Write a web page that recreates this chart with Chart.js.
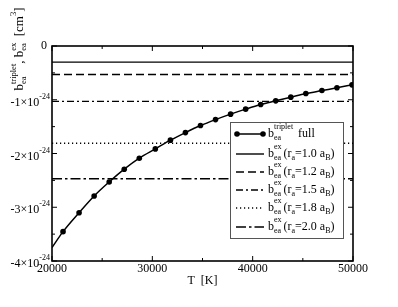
<!DOCTYPE html>
<html><head><meta charset="utf-8">
<script src="https://cdn.jsdelivr.net/npm/chart.js@4/dist/chart.umd.min.js"></script>
<style>html,body{margin:0;padding:0;background:#fff}#wrap{width:398px;height:307px}</style>
</head><body><div id="wrap"><canvas id="c" width="398" height="307"></canvas></div>
<script>
// values in units of 1e-24 cm^3
const T_full = [20000,21100,22700,24200,25700,27200,28700,30300,31800,33300,34800,36300,37800,39300,40800,42300,43800,45300,46900,48400,49900];
const b_full = [-3.75,-3.454,-3.101,-2.790,-2.529,-2.292,-2.087,-1.914,-1.752,-1.611,-1.480,-1.369,-1.268,-1.175,-1.089,-1.020,-0.952,-0.885,-0.829,-0.778,-0.723];
const radii = ["1.0","1.2","1.5","1.8","2.0"];
const b_ex = [-0.30,-0.53,-1.03,-1.81,-2.47];
const T_range = [20000,50000];
const xTicks = [20000,30000,40000,50000];
const xMinor = [25000,35000,45000];
const yTicks = [0,-1,-2,-3,-4];
const yTickLabels = ["0","-1\u00d710","-2\u00d710","-3\u00d710","-4\u00d710"];
const yMinor = [-0.5,-1.5,-2.5,-3.5];
const dashes = [[],[8,4],[7,3,2,3],[1.2,2.8],[10,3,2.5,3]];

const datasets = [{
  label:'full', data:T_full.map((t,i)=>({x:t,y:b_full[i]})),
  borderColor:'#000', backgroundColor:'#000', borderWidth:1.5,
  pointRadius:T_full.map((t,i)=>i===0?0:2.8), pointBackgroundColor:'#000', pointBorderWidth:0,
  tension:0.35, cubicInterpolationMode:'monotone', order:0
}];
radii.forEach((r,i)=>datasets.push({
  label:r, data:T_range.map(t=>({x:t,y:b_ex[i]})),
  borderColor:'#000', borderWidth:1.4, borderDash:dashes[i], pointRadius:0, order:1
}));

const SERIF = '"Liberation Serif","DejaVu Serif",serif';
function runs(ctx, x, y, parts){
  let cx = x;
  for(const p of parts){ ctx.font = p[1]+'px '+SERIF; ctx.fillText(p[0], cx, y+p[2]); cx += ctx.measureText(p[0]).width; }
  return cx;
}
function width(ctx, parts){ let w=0; for(const p of parts){ctx.font=p[1]+'px '+SERIF; w+=ctx.measureText(p[0]).width;} return w; }

const deco = {
  id:'deco',
  afterDraw(chart){
    const {ctx, chartArea:a, scales:{x,y}} = chart;
    const meas=(s,sz)=>{ctx.font=sz+'px '+SERIF;return ctx.measureText(s).width;};
    ctx.save();
    ctx.strokeStyle='#000'; ctx.fillStyle='#000';
    ctx.lineWidth=1.6; ctx.setLineDash([]);
    ctx.strokeRect(a.left, a.top, a.right-a.left, a.bottom-a.top);
    ctx.lineWidth=1;
    ctx.beginPath();
    xTicks.forEach(v=>{const px=x.getPixelForValue(v); ctx.moveTo(px,a.bottom); ctx.lineTo(px,a.bottom-5); ctx.moveTo(px,a.top); ctx.lineTo(px,a.top+5);});
    xMinor.forEach(v=>{const px=x.getPixelForValue(v); ctx.moveTo(px,a.bottom); ctx.lineTo(px,a.bottom-3); ctx.moveTo(px,a.top); ctx.lineTo(px,a.top+3);});
    yTicks.forEach(v=>{const py=y.getPixelForValue(v); ctx.moveTo(a.left,py); ctx.lineTo(a.left+5,py); ctx.moveTo(a.right,py); ctx.lineTo(a.right-5,py);});
    yMinor.forEach(v=>{const py=y.getPixelForValue(v); ctx.moveTo(a.left,py); ctx.lineTo(a.left+3,py); ctx.moveTo(a.right,py); ctx.lineTo(a.right-3,py);});
    ctx.stroke();
    // x tick labels
    ctx.font='12px '+SERIF; ctx.textAlign='center'; ctx.textBaseline='top';
    xTicks.forEach(v=>ctx.fillText(String(v), x.getPixelForValue(v), a.bottom+2));
    // y tick labels
    ctx.textAlign='left'; ctx.textBaseline='middle';
    yTicks.forEach((v,i)=>{
      const py=y.getPixelForValue(v);
      const parts = v===0 ? [[yTickLabels[i],12,0]] : [[yTickLabels[i],12,3],['-24',8,-3]];
      const w = width(ctx, parts);
      runs(ctx, a.left-(v===0?5:2)-w, py, parts);
    });
    // x title
    ctx.font='12px '+SERIF; ctx.textAlign='center'; ctx.textBaseline='middle';
    ctx.fillText('T  [K]', (a.left+a.right)/2, 281);
    // y title
    ctx.save(); ctx.translate(20, 49); ctx.rotate(-Math.PI/2);
    ctx.textAlign='left';
    const B1=13, S1=8.5;
    const segs=[{b:'b',sub:'ea',sup:'triplet'},{txt:', '},{b:'b',sub:'ea',sup:'ex'},{txt:'  [cm'},{sup3:'3'},{txt:']'}];
    let tot=0;
    segs.forEach(s=>{ if(s.b) tot+=meas(s.b,B1)+Math.max(meas(s.sub,S1),meas(s.sup,S1)); else if(s.txt) tot+=meas(s.txt,B1); else tot+=meas(s.sup3,S1);});
    let cx=-tot/2;
    segs.forEach(s=>{
      if(s.b){ ctx.font=B1+'px '+SERIF; ctx.fillText(s.b,cx,0); cx+=meas(s.b,B1); ctx.font=S1+'px '+SERIF; ctx.fillText(s.sub,cx,4); ctx.fillText(s.sup,cx,-6.5); cx+=Math.max(meas(s.sub,S1),meas(s.sup,S1)); }
      else if(s.txt){ ctx.font=B1+'px '+SERIF; ctx.fillText(s.txt,cx,0); cx+=meas(s.txt,B1); }
      else { ctx.font=S1+'px '+SERIF; ctx.fillText(s.sup3,cx,-6.5); cx+=meas(s.sup3,S1); }
    });
    ctx.restore();
    // legend
    const L=230, R=343, Tp=122, Bt=238;
    ctx.fillStyle='#fff'; ctx.fillRect(L,Tp,R-L,Bt-Tp);
    ctx.strokeStyle='#555'; ctx.lineWidth=1; ctx.setLineDash([]);
    ctx.strokeRect(L+0.5,Tp+0.5,R-L,Bt-Tp);
    const rows=[134,154,172,190,208,227];
    ctx.strokeStyle='#000'; ctx.fillStyle='#000';
    ctx.textAlign='left'; ctx.textBaseline='middle';
    rows.forEach((ry,i)=>{
      const ds=chart.data.datasets[i];
      ctx.lineWidth=ds.borderWidth; ctx.setLineDash(ds.borderDash||[]);
      ctx.beginPath(); ctx.moveTo(236,ry); ctx.lineTo(264,ry); ctx.stroke();
      ctx.setLineDash([]);
      if(i===0){ [237,263].forEach(px=>{ctx.beginPath();ctx.arc(px,ry,2.8,0,Math.PI*2);ctx.fill();}); }
      let cx=268;
      ctx.font='12px '+SERIF; ctx.fillText('b',cx,ry); cx+=meas('b',12);
      ctx.font='8px '+SERIF; ctx.fillText('ea',cx,ry+4);
      const sup = i===0?'triplet':'ex';
      ctx.fillText(sup,cx,ry-7);
      cx+=Math.max(meas('ea',8),meas(sup,8))+2;
      if(i===0){ ctx.font='12px '+SERIF; ctx.fillText(' full',cx,ry); }
      else {
        const r=radii[i-1];
        ctx.font='12px '+SERIF; ctx.fillText('(r',cx,ry); cx+=meas('(r',12);
        ctx.font='8px '+SERIF; ctx.fillText('a',cx,ry+4); cx+=meas('a',8);
        ctx.font='12px '+SERIF; const s='='+r+' a'; ctx.fillText(s,cx,ry); cx+=meas(s,12);
        ctx.font='8px '+SERIF; ctx.fillText('B',cx,ry+4); cx+=meas('B',8);
        ctx.font='12px '+SERIF; ctx.fillText(')',cx,ry);
      }
    });
    ctx.restore();
  }
};

new Chart(document.getElementById('c'), {
  type:'line',
  data:{datasets},
  options:{
    responsive:false, animation:false, devicePixelRatio:1,
    layout:{padding:{left:52,top:46,right:45,bottom:46}},
    plugins:{legend:{display:false}, tooltip:{enabled:false}},
    scales:{
      x:{type:'linear', min:20000, max:50000, display:false},
      y:{type:'linear', min:-4, max:0, display:false}
    }
  },
  plugins:[deco]
});
</script></body></html>
